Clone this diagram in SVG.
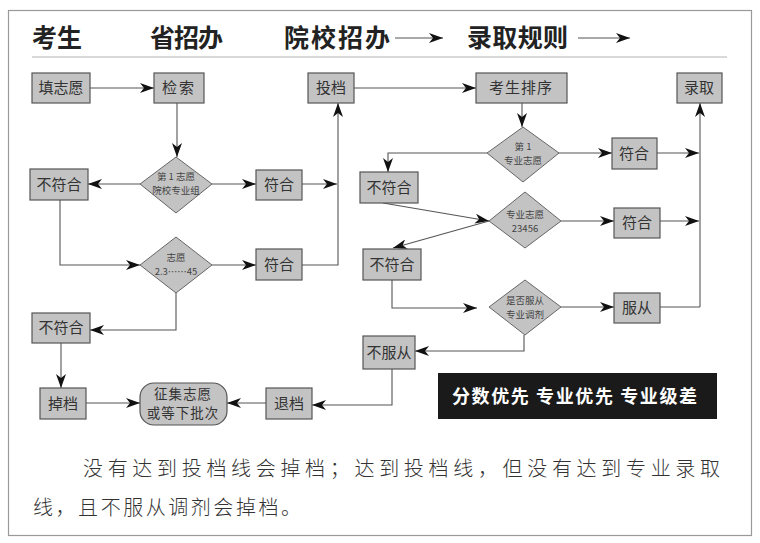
<svg xmlns="http://www.w3.org/2000/svg" width="760" height="543" viewBox="0 0 760 543">
<defs>
<marker id="ah" viewBox="0 0 14 10" refX="14" refY="5" markerWidth="14" markerHeight="10" markerUnits="userSpaceOnUse" orient="auto">
<path d="M0,0 L14,5 L0,10 L4,5 Z" fill="#111"/>
</marker>
<style>
.box{fill:#c3c3c3;stroke:#555;stroke-width:1.2}
.dia{fill:#c3c3c3;stroke:#666;stroke-width:1}
.bt{font-family:"Noto Sans CJK SC","Noto Sans",sans-serif;font-size:15px;fill:#333;text-anchor:middle}
.zt{font-family:"Noto Sans CJK SC","Noto Sans",sans-serif;font-size:13.5px;fill:#333;text-anchor:middle}
.dt{font-family:"Noto Sans CJK SC","Noto Sans",sans-serif;font-size:9.5px;fill:#444;text-anchor:middle}
.ttl{font-family:"Noto Sans CJK SC",sans-serif;font-size:25px;font-weight:bold;fill:#222}
.c{fill:none;stroke:#555;stroke-width:1.1}
.a{marker-end:url(#ah)}
.para{font-family:"Noto Sans CJK SC",sans-serif;font-size:20px;fill:#333;font-weight:300}
</style>
</defs>
<rect x="8.5" y="10.5" width="743" height="525" fill="#fff" stroke="#999" stroke-width="1.2"/>
<line x1="32" y1="57" x2="727" y2="57" stroke="#ccc" stroke-width="1.5"/>
<g id="titles">
<text class="ttl" x="32" y="47" textLength="50">考生</text>
<text class="ttl" x="150" y="47" textLength="73">省招办</text>
<text class="ttl" x="284" y="47" textLength="106">院校招办</text>
<text class="ttl" x="467" y="47" textLength="101">录取规则</text>
<path class="c a" d="M395,38 H443" stroke="#222"/>
<path class="c a" d="M578,38 H630" stroke="#222"/>
</g>
<g id="connectors">
<path class="c a" d="M90,88 H154"/>
<path class="c a" d="M177,103 V157"/>
<path class="c a" d="M140,184 H88"/>
<path class="c a" d="M212,184 H256"/>
<path class="c a" d="M302,184 H337"/>
<path class="c a" d="M302,265 H338 V103"/>
<path class="c a" d="M60,200 V265 H140"/>
<path class="c a" d="M212,265 H256"/>
<path class="c a" d="M176,293 V330 H90"/>
<path class="c a" d="M61,343 V388"/>
<path class="c a" d="M86,403 H140"/>
<path class="c a" d="M266,403 H227"/>
<path class="c a" d="M392,369 V405 H312"/>
<path class="c a" d="M354,88 H476"/>
<path class="c a" d="M522,103 V127"/>
<path class="c a" d="M487,153 H388 V172"/>
<path class="c a" d="M558,153 H612"/>
<path class="c a" d="M657,153 H699"/>
<path class="c a" d="M700,307 V103"/>
<path class="c a" d="M383,203 L489,221"/>
<path class="c a" d="M489,221 L393,248"/>
<path class="c a" d="M561,221 H614"/>
<path class="c a" d="M660,221 H699"/>
<path class="c a" d="M392,280 V308 H477"/>
<path class="c a" d="M561,307 H614"/>
<path class="c" d="M660,307 H700"/>
<path class="c a" d="M524,335 V351 H415"/>
</g>
<g id="n_tianzhiyuan"><rect class="box" x="32" y="73" width="58" height="30"/><text class="bt" x="61" y="93">填志愿</text></g>
<g id="n_jiansuo"><rect class="box" x="154" y="73" width="50" height="30"/><text class="bt" x="179" y="93" letter-spacing="2">检索</text></g>
<g id="n_toudang"><rect class="box" x="308" y="73" width="46" height="30"/><text class="bt" x="331" y="93">投档</text></g>
<g id="n_paixu"><rect class="box" x="476" y="73" width="91" height="30"/><text class="bt" x="521" y="93" letter-spacing="1">考生排序</text></g>
<g id="n_luqu"><rect class="box" x="677" y="73" width="45" height="30"/><text class="bt" x="699" y="93">录取</text></g>
<g id="d1"><polygon class="dia" points="176,157 212,184 176,213 140,184"/><text class="dt" x="176" y="180">第 1 志愿</text><text class="dt" x="176" y="194">院校专业组</text></g>
<g id="n_bfh1"><rect class="box" x="30" y="169" width="58" height="31"/><text class="bt" x="59" y="190">不符合</text></g>
<g id="n_fh1"><rect class="box" x="256" y="170" width="46" height="30"/><text class="bt" x="279" y="190">符合</text></g>
<g id="d2"><polygon class="dia" points="176,237 212,265 176,293 140,265"/><text class="dt" x="176" y="261">志愿</text><text class="dt" x="176" y="275">2.3……45</text></g>
<g id="n_fh2"><rect class="box" x="256" y="249" width="46" height="31"/><text class="bt" x="279" y="270">符合</text></g>
<g id="n_bfh3"><rect class="box" x="32" y="313" width="58" height="30"/><text class="bt" x="61" y="333">不符合</text></g>
<g id="n_diaodang"><rect class="box" x="40" y="388" width="46" height="31"/><text class="bt" x="63" y="409">掉档</text></g>
<g id="n_zhengji"><rect class="box" x="140" y="383" width="87" height="42" rx="14"/><text class="zt" x="183" y="399" letter-spacing="1">征集志愿</text><text class="zt" x="183" y="418" letter-spacing="1">或等下批次</text></g>
<g id="n_tuidang"><rect class="box" x="266" y="388" width="46" height="31"/><text class="bt" x="289" y="409">退档</text></g>
<g id="d3"><polygon class="dia" points="523,127 559,153 523,182 487,153"/><text class="dt" x="523" y="150">第 1</text><text class="dt" x="523" y="164">专业志愿</text></g>
<g id="n_bfhr1"><rect class="box" x="360" y="172" width="58" height="31"/><text class="bt" x="389" y="193">不符合</text></g>
<g id="n_fhr1"><rect class="box" x="612" y="138" width="45" height="31"/><text class="bt" x="634" y="159">符合</text></g>
<g id="d4"><polygon class="dia" points="525,192 561,221 525,248 489,221"/><text class="dt" x="525" y="218">专业志愿</text><text class="dt" x="525" y="232">23456</text></g>
<g id="n_bfhr2"><rect class="box" x="363" y="249" width="58" height="31"/><text class="bt" x="392" y="270">不符合</text></g>
<g id="n_fhr2"><rect class="box" x="614" y="208" width="46" height="30"/><text class="bt" x="637" y="228">符合</text></g>
<g id="d5"><polygon class="dia" points="525,280 561,307 525,335 489,307"/><text class="dt" x="525" y="304">是否服从</text><text class="dt" x="525" y="318">专业调剂</text></g>
<g id="n_fucong"><rect class="box" x="614" y="293" width="46" height="30"/><text class="bt" x="637" y="313">服从</text></g>
<g id="n_bufucong"><rect class="box" x="363" y="336" width="52" height="33"/><text class="bt" x="389" y="358">不服从</text></g>
<g id="banner"><rect x="438" y="373" width="279" height="46" fill="#1a1a1a"/><text x="452" y="403" font-family="'Noto Sans CJK SC',sans-serif" font-size="18" font-weight="bold" fill="#fff" textLength="245">分数优先 专业优先 专业级差</text></g>
<g id="caption">
<text class="para" x="83" y="476" textLength="637">没有达到投档线会掉档；达到投档线，但没有达到专业录取</text>
<text class="para" x="33" y="515" textLength="268">线，且不服从调剂会掉档。</text>
</g>
</svg>
